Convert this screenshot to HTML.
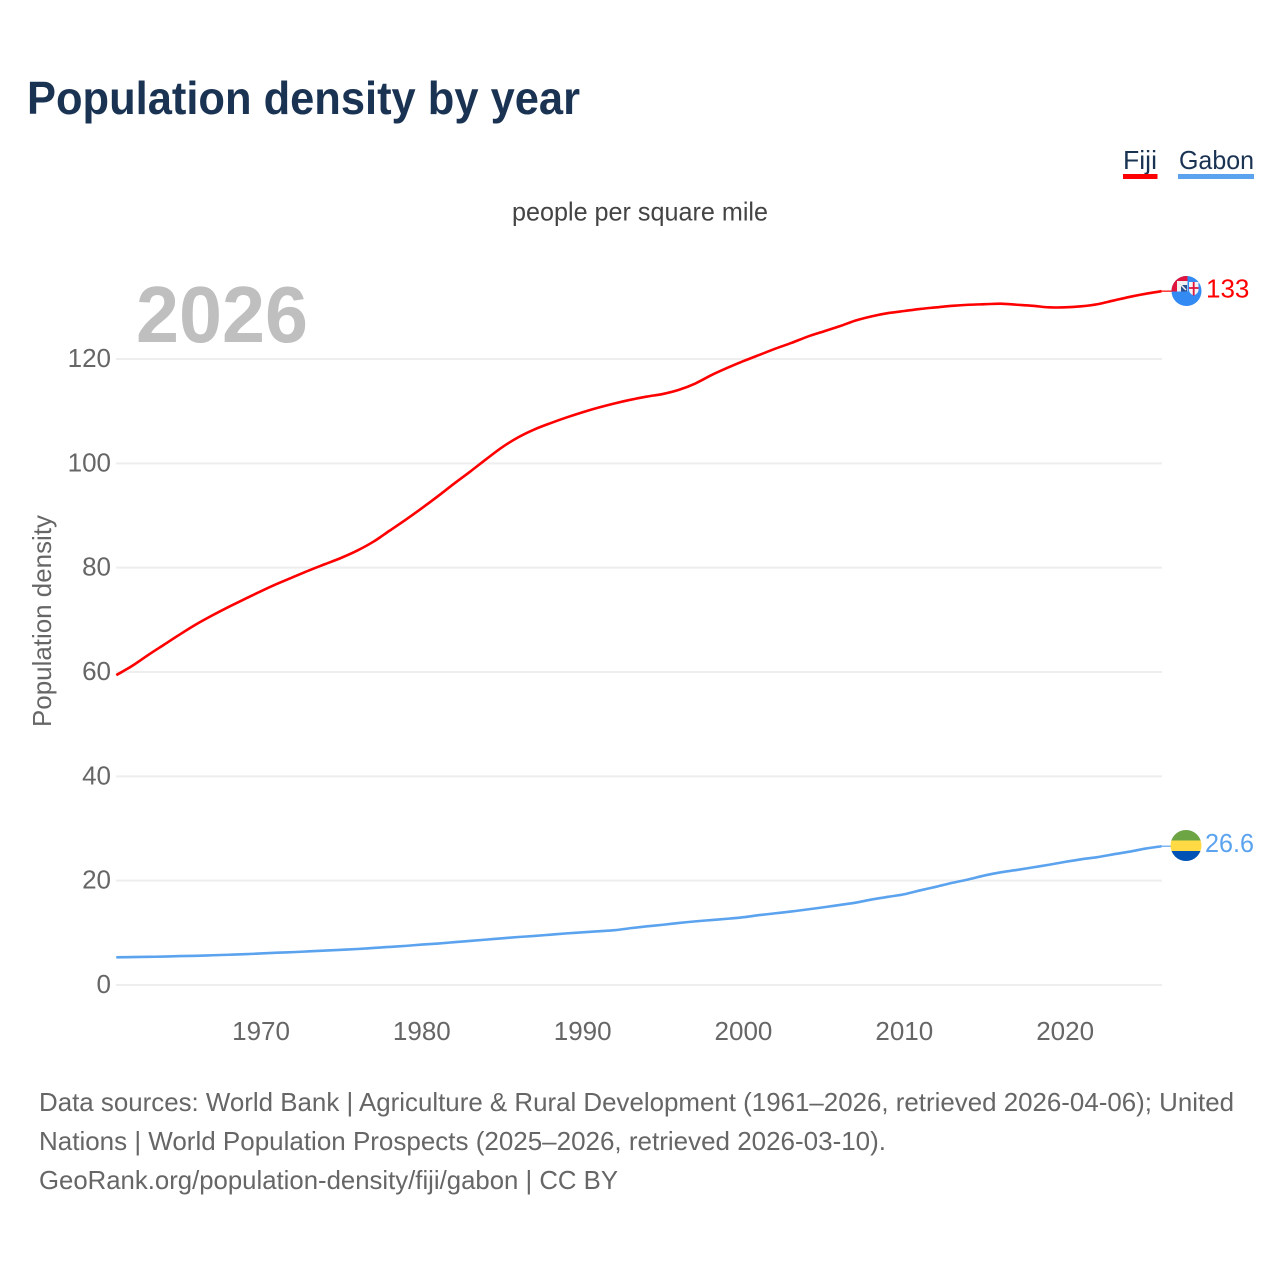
<!DOCTYPE html>
<html lang="en">
<head>
<meta charset="utf-8">
<title>Population density by year</title>
<style>
html,body{margin:0;padding:0;background:#fff;}
svg{display:block;font-family:"Liberation Sans",sans-serif;}
</style>
</head>
<body>
<svg id="chart" xmlns="http://www.w3.org/2000/svg" width="1280" height="1280" viewBox="0 0 1280 1280">
  <rect width="1280" height="1280" fill="#ffffff"/>
  <text x="27" y="114" font-size="46" font-weight="700" fill="#1a3353" textLength="553" lengthAdjust="spacingAndGlyphs">Population density by year</text>
  <g>
    <text x="1123" y="169" font-size="26" fill="#1a3353" textLength="34" lengthAdjust="spacingAndGlyphs">Fiji</text>
    <rect x="1123" y="174" width="34.5" height="5" fill="#ff0000"/>
  </g>
  <g>
    <text x="1179" y="169" font-size="26" fill="#1a3353" textLength="75" lengthAdjust="spacingAndGlyphs">Gabon</text>
    <rect x="1178" y="174" width="76" height="5" fill="#5ba3ee"/>
  </g>
  <text x="512" y="220.5" font-size="26" fill="#444444" textLength="256" lengthAdjust="spacingAndGlyphs">people per square mile</text>
  <text transform="translate(51,727) rotate(-90)" x="0" y="0" font-size="26" fill="#666666" textLength="212" lengthAdjust="spacingAndGlyphs">Population density</text>
  <g id="grid"></g>
  <g id="yticks"></g>
  <g id="xticks"></g>
  <text x="136" y="342" font-size="80" font-weight="700" fill="#bfbfbf" textLength="172" lengthAdjust="spacingAndGlyphs">2026</text>
  <g id="series"></g>
  <defs>
    <clipPath id="fiji-clip"><circle cx="1186.5" cy="291" r="15"/></clipPath>
    <clipPath id="gabon-clip"><circle cx="1186" cy="845.5" r="15.5"/></clipPath>
  </defs>
  <g clip-path="url(#fiji-clip)">
    <rect x="1171" y="275" width="31" height="32" fill="#338af3"/>
    <rect x="1171" y="275" width="16.5" height="16.5" fill="#e0143c"/>
    <rect x="1177" y="281" width="10.5" height="10.5" fill="#f0f0f0"/>
    <rect x="1181" y="285" width="6" height="6.5" fill="#2b4f8f"/>
    <path d="M1178 282 L1186 290" stroke="#f0f0f0" stroke-width="1.5"/>
    <path d="M1189 282 H1198.5 V290 Q1198.5 293.5 1193.7 295.5 Q1189 293.5 1189 290 Z" fill="#f4f4f4"/>
    <path d="M1193.7 282 V295.5 M1189 288 H1198.5" stroke="#e0143c" stroke-width="1.8"/>
  </g>
  <g clip-path="url(#gabon-clip)">
    <rect x="1170" y="830" width="32" height="11" fill="#6da544"/>
    <rect x="1170" y="840.5" width="32" height="10.5" fill="#ffda44"/>
    <rect x="1170" y="851" width="32" height="11" fill="#0052b4"/>
  </g>
  <text x="1206" y="297.5" font-size="26" fill="#ff0000">133</text>
  <text x="1205" y="852" font-size="26" fill="#5ba3ee" textLength="49" lengthAdjust="spacingAndGlyphs">26.6</text>
  <g font-size="26" fill="#666666">
    <text x="39" y="1111" textLength="1195" lengthAdjust="spacingAndGlyphs">Data sources: World Bank | Agriculture &amp; Rural Development (1961–2026, retrieved 2026-04-06); United</text>
    <text x="39" y="1150" textLength="847" lengthAdjust="spacingAndGlyphs">Nations | World Population Prospects (2025–2026, retrieved 2026-03-10).</text>
    <text x="39" y="1189" textLength="579" lengthAdjust="spacingAndGlyphs">GeoRank.org/population-density/fiji/gabon | CC BY</text>
  </g>
</svg>
<script>
const startYear = 1961;
const endYear = 2026;
const yTickValues = [0, 20, 40, 60, 80, 100, 120];
const xTickYears = [1970, 1980, 1990, 2000, 2010, 2020];
const fijiValues = [59.4,61.2,63.3,65.3,67.3,69.2,70.9,72.5,74.0,75.5,76.9,78.2,79.5,80.7,81.9,83.3,85.0,87.1,89.2,91.4,93.7,96.1,98.4,100.8,103.1,105.0,106.5,107.7,108.8,109.8,110.7,111.5,112.2,112.8,113.3,114.1,115.3,116.9,118.3,119.6,120.8,122.0,123.1,124.3,125.3,126.3,127.4,128.2,128.8,129.2,129.6,129.9,130.2,130.4,130.5,130.6,130.4,130.2,129.9,129.9,130.1,130.5,131.2,131.9,132.5,133.0];
const gabonValues = [5.3,5.35,5.4,5.45,5.55,5.6,5.7,5.8,5.9,6.05,6.2,6.3,6.45,6.6,6.75,6.9,7.1,7.3,7.5,7.75,7.95,8.2,8.45,8.7,8.95,9.2,9.4,9.65,9.9,10.1,10.3,10.5,10.9,11.25,11.55,11.9,12.2,12.45,12.7,13.0,13.4,13.75,14.1,14.5,14.9,15.35,15.8,16.4,16.9,17.4,18.15,18.85,19.6,20.25,21.0,21.6,22.05,22.55,23.05,23.6,24.1,24.5,25.05,25.55,26.15,26.6];

const NS = 'http://www.w3.org/2000/svg';
function xScale(year) { return 116.3 + (year - 1961) * (1161.6 - 116.3) / 65; }
function yScale(value) { return 985 - value * (985 - 359) / 120; }

const grid = document.getElementById('grid');
const yticks = document.getElementById('yticks');
const xticks = document.getElementById('xticks');
const seriesGroup = document.getElementById('series');

yTickValues.forEach(function (v) {
  const line = document.createElementNS(NS, 'line');
  
  
  line.setAttribute('x1', 116);
  line.setAttribute('x2', 1162);
  line.setAttribute('y1', yScale(v));
  line.setAttribute('y2', yScale(v));
  line.setAttribute('stroke', '#eeeeee');
  line.setAttribute('stroke-width', 2);
  grid.appendChild(line);

  const label = document.createElementNS(NS, 'text');
  
  
  label.setAttribute('x', 111);
  label.setAttribute('y', yScale(v) + 8);
  label.setAttribute('text-anchor', 'end');
  label.setAttribute('font-size', 26);
  label.setAttribute('fill', '#666666');
  label.textContent = String(v);
  yticks.appendChild(label);
});

xTickYears.forEach(function (yr) {
  const label = document.createElementNS(NS, 'text');
  
  
  label.setAttribute('x', xScale(yr));
  label.setAttribute('y', 1040);
  label.setAttribute('text-anchor', 'middle');
  label.setAttribute('font-size', 26);
  label.setAttribute('fill', '#666666');
  label.textContent = String(yr);
  xticks.appendChild(label);
});

function smoothPath(values) {
  const xs = values.map(function (v, i) { return xScale(startYear + i); });
  const ys = values.map(yScale);
  const n = values.length;
  let d = 'M' + xs[0].toFixed(2) + ' ' + ys[0].toFixed(2);
  for (let i = 0; i < n - 1; i++) {
    const dx = (xs[i + 1] - xs[i]) / 3;
    const m0 = (ys[i + 1] - ys[Math.max(i - 1, 0)]) / (i === 0 ? 1 : 2);
    const m1 = (ys[Math.min(i + 2, n - 1)] - ys[i]) / (i === n - 2 ? 1 : 2);
    d += ' C' + (xs[i] + dx).toFixed(2) + ' ' + (ys[i] + m0 / 3).toFixed(2) +
         ' ' + (xs[i + 1] - dx).toFixed(2) + ' ' + (ys[i + 1] - m1 / 3).toFixed(2) +
         ' ' + xs[i + 1].toFixed(2) + ' ' + ys[i + 1].toFixed(2);
  }
  return d;
}

function drawSeries(values, color, lineName, leaderName) {
  const path = document.createElementNS(NS, 'path');
  
  
  path.setAttribute('d', smoothPath(values));
  path.setAttribute('fill', 'none');
  path.setAttribute('stroke', color);
  path.setAttribute('stroke-width', 2.6);
  path.setAttribute('stroke-linejoin', 'round');
  seriesGroup.appendChild(path);

  const last = values[values.length - 1];
  const leader = document.createElementNS(NS, 'line');
  
  
  leader.setAttribute('x1', xScale(endYear));
  leader.setAttribute('x2', xScale(endYear) + 10);
  leader.setAttribute('y1', yScale(last));
  leader.setAttribute('y2', yScale(last));
  leader.setAttribute('stroke', color);
  leader.setAttribute('stroke-width', 1.5);
  leader.setAttribute('opacity', 0.8);
  seriesGroup.appendChild(leader);
}

drawSeries(gabonValues, '#5ba3ee', 'series-line-gabon', 'gabon-leader-line');
drawSeries(fijiValues, '#ff0000', 'series-line-fiji', 'fiji-leader-line');
</script>
</body>
</html>
